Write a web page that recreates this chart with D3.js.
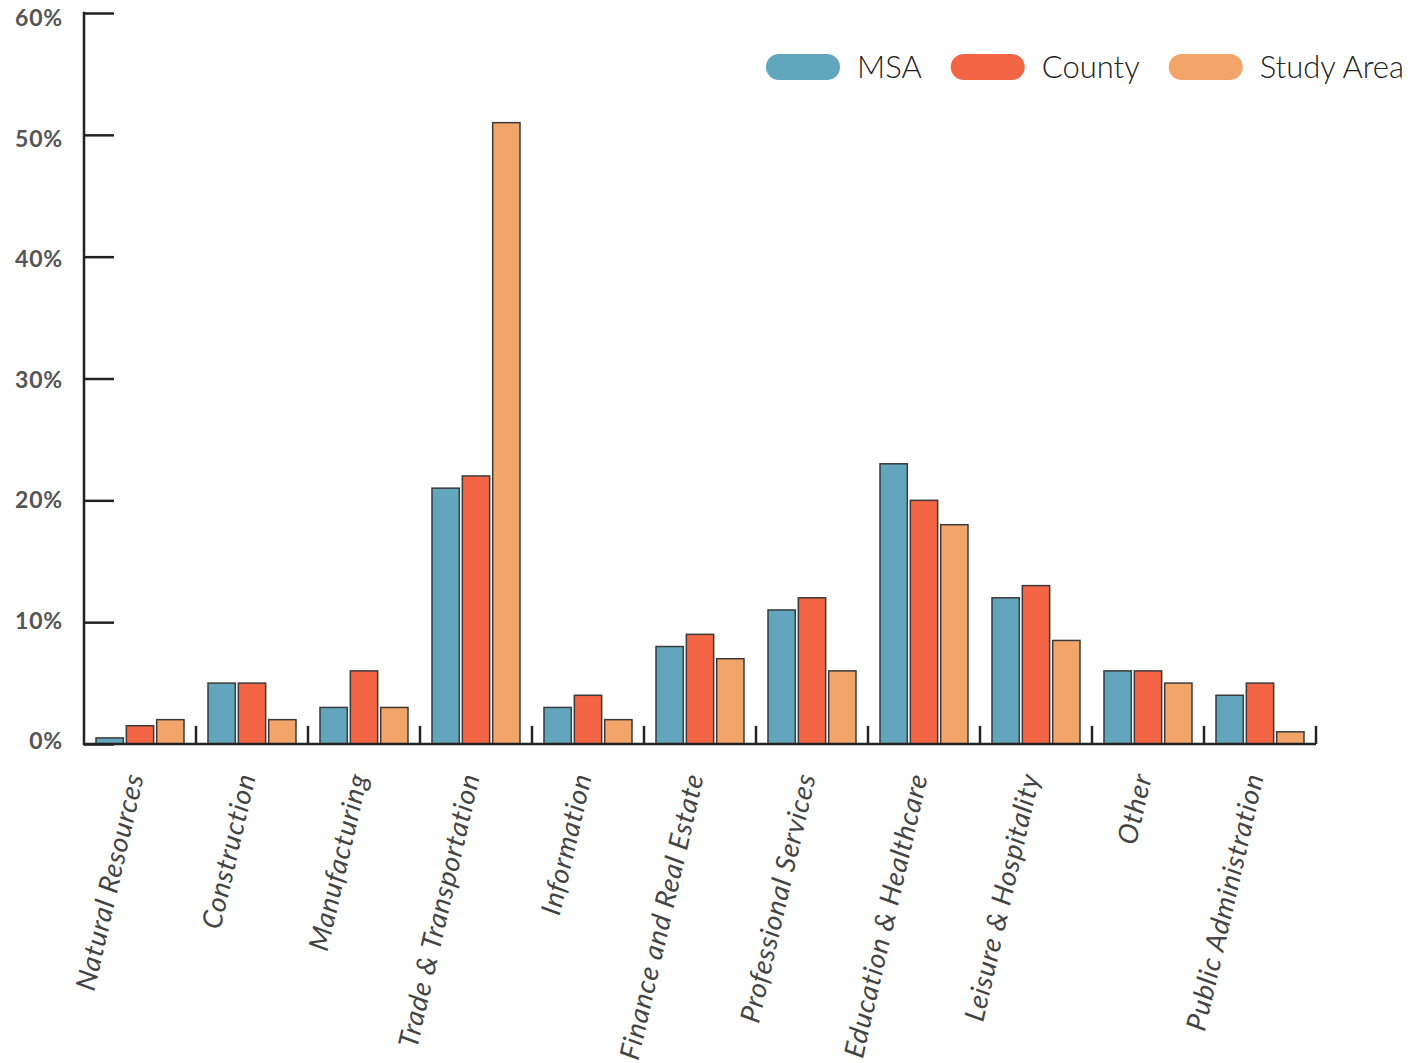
<!DOCTYPE html>
<html>
<head>
<meta charset="utf-8">
<script src="https://cdn.jsdelivr.net/npm/d3@7"></script>
<style>
  html, body { margin: 0; padding: 0; background: #fff; }
  svg { display: block; }
</style>
</head>
<body>
<svg id="chart" width="1414" height="1063"></svg>
<script>
// Employment share by industry (%)
const categories = [
  "Natural Resources", "Construction", "Manufacturing", "Trade & Transportation",
  "Information", "Finance and Real Estate", "Professional Services",
  "Education & Healthcare", "Leisure & Hospitality", "Other", "Public Administration"
];
const seriesNames = ["MSA", "County", "Study Area"];
const msa       = [0.5, 5, 3, 21, 3, 8, 11, 23, 12, 6, 4];
const county    = [1.5, 5, 6, 22, 4, 9, 12, 20, 13, 6, 5];
const studyArea = [2, 2, 3, 51, 2, 7, 6, 18, 8.5, 5, 1];
const yTicks = [0, 10, 20, 30, 40, 50, 60];

const seriesValues = [msa, county, studyArea];
const colors = ["#61a6bd", "#f26645", "#f3a469"];

const svg = d3.select("#chart");
const margin = { left: 84, right: 98, top: 13, bottom: 319 };
const W = 1414, H = 1063;
const x0 = margin.left, x1 = W - margin.right;
const yBase = H - margin.bottom;

const x = d3.scaleBand().domain(categories).range([x0, x1]).paddingInner(0).paddingOuter(0);
const xs = d3.scaleBand().domain(seriesNames).range([12, x.bandwidth() - 12]).paddingInner(0.1);
const y = d3.scaleLinear().domain([0, 60]).range([yBase, margin.top]);
// tick labels sit a touch inside the tick span
const yLabel = d3.scaleLinear().domain([0, 60]).range([yBase - 3, margin.top + 5]);

const rows = categories.map((c, i) => ({
  cat: c,
  vals: seriesNames.map((s, j) => ({ s, j, v: seriesValues[j][i] }))
}));

// Bars
const g = svg.append("g");
g.selectAll("g.cat").data(rows).join("g")
  .attr("class", "cat")
  .attr("transform", d => `translate(${x(d.cat)},0)`)
  .selectAll("rect").data(d => d.vals).join("rect")
  .attr("x", d => xs(d.s))
  .attr("width", xs.bandwidth())
  .attr("y", d => y(d.v))
  .attr("height", d => yBase - y(d.v))
  .attr("fill", d => colors[d.j])
  .attr("stroke", "#3a3a3a")
  .attr("stroke-width", 1.5);

// Y axis
const yAxis = d3.axisRight(y).tickValues(yTicks).tickSize(30).tickFormat("");
const yg = svg.append("g").attr("transform", `translate(${x0},0)`).call(yAxis);
yg.select(".domain").remove();
yg.selectAll(".tick line").attr("stroke", "#222").attr("stroke-width", 2.5);
svg.append("line")
  .attr("x1", x0).attr("x2", x0).attr("y1", y(60) - 1.2).attr("y2", yBase + 1.2)
  .attr("stroke", "#222").attr("stroke-width", 2.5);

svg.append("g").selectAll("text").data(yTicks).join("text")
  .attr("x", 63).attr("y", d => yLabel(d))
  .attr("dy", "0.36em")
  .attr("text-anchor", "end")
  .attr("font-family", "Lato, sans-serif")
  .attr("font-weight", 700)
  .attr("font-size", 23)
  .attr("letter-spacing", 0.8)
  .attr("fill", "#555")
  .text(d => d + "%");

// X axis with boundary ticks pointing up
svg.append("line")
  .attr("x1", x0).attr("x2", x1).attr("y1", yBase).attr("y2", yBase)
  .attr("stroke", "#222").attr("stroke-width", 2.5);
svg.append("g").selectAll("line").data(categories).join("line")
  .attr("x1", d => x(d) + x.bandwidth()).attr("x2", d => x(d) + x.bandwidth())
  .attr("y1", yBase).attr("y2", yBase - 18)
  .attr("stroke", "#222").attr("stroke-width", 2.5);

// Category labels
svg.append("g").selectAll("text").data(categories).join("text")
  .attr("transform", d => `translate(${x(d) + x.bandwidth() / 2 + 4},${yBase + 32}) rotate(-77)`)
  .attr("text-anchor", "end")
  .attr("font-family", "Lato, sans-serif")
  .attr("font-style", "italic")
  .attr("font-size", 27.5)
  .attr("letter-spacing", 0.9)
  .attr("fill", "#444")
  .text(d => d);

// Legend
const leg = svg.append("g").attr("transform", "translate(766,0)");
let cx = 0;
seriesNames.forEach((s, j) => {
  const item = leg.append("g").attr("transform", `translate(${cx},0)`);
  item.append("rect")
    .attr("x", 0).attr("y", 54).attr("width", 74).attr("height", 26)
    .attr("rx", 13).attr("fill", colors[j]);
  const t = item.append("text")
    .attr("x", 91).attr("y", 78)
    .attr("font-family", "Lato, sans-serif")
    .attr("font-weight", 300)
    .attr("font-size", 31)
    .attr("fill", "#222")
    .text(s);
  cx += 91 + t.node().getComputedTextLength() + 29;
});
</script>
</body>
</html>
